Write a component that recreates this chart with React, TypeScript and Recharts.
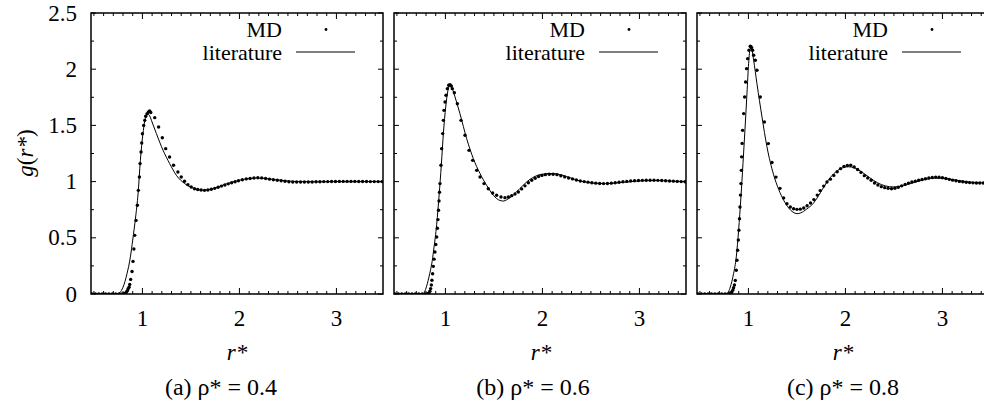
import React from 'react'
import { ComposedChart, Scatter, Line, XAxis, YAxis, ReferenceArea, Customized } from 'recharts'

// tick positions
const xTicks = [0.5, 0.6, 0.7, 0.8, 0.9, 1, 1.1, 1.2, 1.3, 1.4, 1.5, 1.6, 1.7, 1.8, 1.9, 2, 2.1, 2.2, 2.3, 2.4, 2.5, 2.6, 2.7, 2.8, 2.9, 3, 3.1, 3.2, 3.3, 3.4]
const yTicks = [0, 0.25, 0.5, 0.75, 1, 1.25, 1.5, 1.75, 2, 2.25, 2.5]
const xLabels = [1, 2, 3]
const yLabels = [0, 0.5, 1, 1.5, 2, 2.5]

// (a) rho* = 0.4
const litA = [
  [0.47, 0], [0.6, 0], [0.7, 0], [0.745, 0], [0.77, 0.015], [0.8, 0.06], [0.841, 0.18], [0.876, 0.33],
  [0.9, 0.48], [0.93, 0.685], [0.955, 0.89], [0.979, 1.19], [1.006, 1.43], [1.034, 1.575], [1.055, 1.6],
  [1.075, 1.585], [1.093, 1.545], [1.144, 1.427], [1.212, 1.28], [1.281, 1.16], [1.35, 1.056], [1.436, 0.982],
  [1.52, 0.943], [1.625, 0.923], [1.728, 0.937], [1.866, 0.98], [2.0, 1.012], [2.106, 1.027], [2.175, 1.032],
  [2.3, 1.025], [2.45, 1.01], [2.6, 1.0], [2.8, 0.998], [3.0, 1.0], [3.2, 1.0], [3.48, 1.0],
]
const mdA = [
  [0.48, 0], [0.515, 0], [0.55, 0], [0.585, 0], [0.62, 0], [0.655, 0], [0.69, 0], [0.725, 0], [0.76, 0],
  [0.79, 0], [0.81, 0.003], [0.825, 0.008], [0.835, 0.018], [0.845, 0.03], [0.852, 0.045], [0.862, 0.06],
  [0.869, 0.085], [0.879, 0.13], [0.893, 0.2], [0.903, 0.29], [0.912, 0.4], [0.921, 0.522], [0.934, 0.655],
  [0.948, 0.789], [0.958, 0.922], [0.969, 1.041], [0.976, 1.16], [0.986, 1.263], [0.993, 1.343], [1.0, 1.426],
  [1.013, 1.5], [1.024, 1.545], [1.034, 1.581], [1.048, 1.604], [1.062, 1.619], [1.075, 1.628], [1.086, 1.615],
  [1.127, 1.569], [1.167, 1.486], [1.205, 1.39], [1.24, 1.293], [1.28, 1.219], [1.321, 1.145], [1.366, 1.086],
  [1.4, 1.041], [1.434, 1.003], [1.469, 0.973], [1.503, 0.952], [1.537, 0.937], [1.57, 0.93], [1.605, 0.925],
  [1.64, 0.922], [1.675, 0.925], [1.71, 0.932], [1.745, 0.94], [1.78, 0.95], [1.815, 0.96], [1.85, 0.97],
  [1.885, 0.98], [1.92, 0.99], [1.955, 0.998], [1.99, 1.008], [2.03, 1.016], [2.07, 1.024], [2.11, 1.028],
  [2.15, 1.032], [2.19, 1.034], [2.23, 1.033], [2.27, 1.028], [2.31, 1.022], [2.35, 1.016], [2.39, 1.012],
  [2.43, 1.008], [2.47, 1.003], [2.51, 0.999], [2.55, 0.997], [2.59, 0.996], [2.63, 0.996], [2.67, 0.997],
  [2.71, 0.997], [2.75, 0.997], [2.79, 0.998], [2.83, 0.999], [2.87, 1.0], [2.91, 1.0], [2.95, 1.001],
  [2.99, 1.001], [3.03, 1.002], [3.07, 1.002], [3.11, 1.002], [3.15, 1.002], [3.19, 1.002], [3.23, 1.001],
  [3.27, 1.001], [3.31, 1.001], [3.35, 1.0], [3.39, 1.0], [3.43, 1.0], [3.47, 1.0],
]

// (b) rho* = 0.6
const litB = [
  [0.47, 0], [0.6, 0], [0.72, 0], [0.772, 0.003], [0.795, 0.04], [0.813, 0.09], [0.83, 0.15], [0.848, 0.22],
  [0.865, 0.3], [0.88, 0.4], [0.895, 0.5], [0.91, 0.62], [0.935, 0.88], [0.958, 1.15], [0.98, 1.44],
  [1.003, 1.664], [1.023, 1.797], [1.047, 1.857], [1.071, 1.827], [1.099, 1.753], [1.15, 1.604], [1.219, 1.382],
  [1.288, 1.204], [1.357, 1.071], [1.425, 0.967], [1.494, 0.878], [1.563, 0.832], [1.6, 0.827], [1.631, 0.838],
  [1.7, 0.88], [1.769, 0.94], [1.872, 1.02], [1.975, 1.062], [2.078, 1.072], [2.15, 1.068], [2.25, 1.045],
  [2.35, 1.015], [2.45, 0.995], [2.55, 0.985], [2.65, 0.982], [2.75, 0.987], [2.85, 0.995], [2.95, 1.003],
  [3.05, 1.008], [3.15, 1.01], [3.25, 1.008], [3.35, 1.004], [3.48, 1.0],
]
const mdB = [
  [0.48, 0], [0.515, 0], [0.55, 0], [0.585, 0], [0.62, 0], [0.655, 0], [0.69, 0], [0.725, 0], [0.76, 0],
  [0.79, 0], [0.815, 0.003], [0.83, 0.01], [0.84, 0.025], [0.848, 0.048], [0.855, 0.08], [0.861, 0.122],
  [0.868, 0.18], [0.875, 0.246], [0.883, 0.31], [0.892, 0.374], [0.901, 0.44], [0.91, 0.507], [0.917, 0.585],
  [0.923, 0.662], [0.929, 0.745], [0.934, 0.828], [0.939, 0.905], [0.944, 0.982], [0.954, 1.145], [0.961, 1.293],
  [0.972, 1.427], [0.979, 1.545], [0.985, 1.634], [0.996, 1.708], [1.006, 1.768], [1.02, 1.827], [1.034, 1.857],
  [1.047, 1.862], [1.061, 1.851], [1.071, 1.827], [1.092, 1.79], [1.123, 1.693], [1.161, 1.545], [1.202, 1.412],
  [1.243, 1.278], [1.281, 1.189], [1.322, 1.1], [1.357, 1.041], [1.398, 0.982], [1.442, 0.937], [1.487, 0.899],
  [1.528, 0.878], [1.573, 0.863], [1.614, 0.857], [1.649, 0.863], [1.683, 0.875], [1.717, 0.89], [1.752, 0.908],
  [1.786, 0.935], [1.82, 0.962], [1.855, 0.99], [1.89, 1.012], [1.925, 1.03], [1.96, 1.045], [1.995, 1.055],
  [2.03, 1.062], [2.07, 1.066], [2.11, 1.066], [2.15, 1.062], [2.19, 1.052], [2.23, 1.042], [2.27, 1.032],
  [2.31, 1.024], [2.35, 1.014], [2.39, 1.006], [2.43, 1.0], [2.47, 0.995], [2.51, 0.99], [2.55, 0.986],
  [2.59, 0.983], [2.63, 0.982], [2.67, 0.983], [2.71, 0.986], [2.75, 0.99], [2.79, 0.994], [2.83, 0.998],
  [2.87, 1.002], [2.91, 1.005], [2.95, 1.008], [2.99, 1.01], [3.03, 1.011], [3.07, 1.012], [3.11, 1.012],
  [3.15, 1.012], [3.19, 1.011], [3.23, 1.01], [3.27, 1.008], [3.31, 1.006], [3.35, 1.004], [3.39, 1.002],
  [3.43, 1.0], [3.47, 0.999],
]

// (c) rho* = 0.8
const litC = [
  [0.47, 0], [0.6, 0], [0.72, 0], [0.779, 0.003], [0.813, 0.062], [0.847, 0.181], [0.875, 0.33], [0.899, 0.567],
  [0.923, 0.863], [0.944, 1.16], [0.964, 1.456], [0.985, 1.783], [1.002, 2.049], [1.019, 2.183], [1.036, 2.168],
  [1.054, 2.079], [1.088, 1.871], [1.14, 1.575], [1.191, 1.31], [1.26, 1.06], [1.312, 0.93], [1.363, 0.835],
  [1.415, 0.765], [1.46, 0.728], [1.5, 0.715], [1.54, 0.722], [1.6, 0.755], [1.672, 0.81], [1.741, 0.9],
  [1.81, 0.997], [1.88, 1.07], [1.95, 1.115], [2.03, 1.132], [2.1, 1.12], [2.17, 1.085], [2.25, 1.035],
  [2.33, 0.99], [2.41, 0.962], [2.5, 0.952], [2.6, 0.965], [2.68, 0.985], [2.76, 1.005], [2.84, 1.022],
  [2.92, 1.03], [3.0, 1.03], [3.08, 1.022], [3.16, 1.01], [3.24, 1.0], [3.32, 0.993], [3.4, 0.99], [3.48, 0.99],
]
const mdC = [
  [0.48, 0], [0.515, 0], [0.55, 0], [0.585, 0], [0.62, 0], [0.655, 0], [0.69, 0], [0.725, 0], [0.76, 0],
  [0.79, 0], [0.81, 0.003], [0.823, 0.01], [0.83, 0.02], [0.84, 0.035], [0.847, 0.055], [0.856, 0.08],
  [0.865, 0.12], [0.875, 0.211], [0.882, 0.3], [0.889, 0.389], [0.896, 0.48], [0.902, 0.567], [0.908, 0.67],
  [0.913, 0.774], [0.918, 0.88], [0.923, 0.982], [0.927, 1.1], [0.93, 1.22], [0.935, 1.34], [0.94, 1.456],
  [0.951, 1.605], [0.961, 1.753], [0.971, 1.886], [0.981, 2.005], [0.992, 2.094], [1.006, 2.168], [1.019, 2.204],
  [1.026, 2.2], [1.033, 2.192], [1.043, 2.168], [1.054, 2.124], [1.071, 2.079], [1.088, 1.99], [1.122, 1.753],
  [1.165, 1.53], [1.205, 1.338], [1.243, 1.17], [1.284, 1.04], [1.325, 0.94], [1.363, 0.855], [1.397, 0.804],
  [1.432, 0.774], [1.466, 0.759], [1.5, 0.753], [1.535, 0.755], [1.57, 0.765], [1.605, 0.785], [1.64, 0.81],
  [1.675, 0.84], [1.71, 0.88], [1.74, 0.92], [1.776, 0.96], [1.81, 0.997], [1.845, 1.022], [1.88, 1.055],
  [1.915, 1.088], [1.95, 1.115], [1.985, 1.135], [2.02, 1.143], [2.055, 1.145], [2.09, 1.13], [2.125, 1.107],
  [2.16, 1.082], [2.195, 1.053], [2.23, 1.032], [2.265, 1.012], [2.3, 0.988], [2.335, 0.97], [2.37, 0.955],
  [2.405, 0.946], [2.44, 0.94], [2.475, 0.937], [2.51, 0.941], [2.545, 0.95], [2.58, 0.962], [2.615, 0.975],
  [2.65, 0.986], [2.685, 0.996], [2.72, 1.004], [2.755, 1.012], [2.79, 1.019], [2.825, 1.026], [2.86, 1.032],
  [2.895, 1.037], [2.93, 1.04], [2.965, 1.039], [3.0, 1.034], [3.035, 1.027], [3.07, 1.02], [3.105, 1.013],
  [3.14, 1.007], [3.175, 1.002], [3.21, 0.998], [3.245, 0.994], [3.28, 0.991], [3.315, 0.989], [3.35, 0.988],
  [3.385, 0.988], [3.42, 0.988], [3.455, 0.988],
]

const FONT = 'Liberation Serif, serif'
const FS = 23
const KEY_FS = 22
const CAP_FS = 24
const Y_W = 91 // space left of the plot box inside each chart
const PLOT_W = 292
const TOP = 13
const BOTTOM = 294
const CHART_W = Y_W + PLOT_W + 8
const CHART_H = 403

const toRows = (arr: number[][]) => arr.map(([r, g]) => ({ r, g }))

const isLabel = (v: number, list: number[]) => list.some((l) => Math.abs(l - v) < 1e-6)

const txt = { fontFamily: FONT, fontSize: FS, fill: '#000' }

const MdDot = (props: any) => <circle cx={props.cx} cy={props.cy} r={1.7} fill="#000" />

function Panel({ left, lit, md, showY, tag, rho, capX, rX }: any) {
  const plotL = Y_W
  const plotR = Y_W + PLOT_W

  const XTick = ({ x, payload }: any) => {
    const major = isLabel(payload.value, xLabels)
    const len = major ? 6 : 3
    return (
      <g>
        <line x1={x} x2={x} y1={BOTTOM} y2={BOTTOM - len} stroke="#000" />
        <line x1={x} x2={x} y1={TOP} y2={TOP + len} stroke="#000" />
        {major && (
          <text x={x} y={318} textAnchor="middle" dominantBaseline="central" style={txt}>
            {payload.value}
          </text>
        )}
      </g>
    )
  }

  const YTick = ({ y, payload }: any) => {
    const major = isLabel(payload.value, yLabels)
    const len = major ? 5 : 3
    return (
      <g>
        <line x1={plotL} x2={plotL + len} y1={y} y2={y} stroke="#000" />
        <line x1={plotR} x2={plotR - len} y1={y} y2={y} stroke="#000" />
        {showY && major && (
          <text x={77} y={y} textAnchor="end" dominantBaseline="central" style={txt}>
            {payload.value}
          </text>
        )}
      </g>
    )
  }

  const key = { ...txt, fontSize: KEY_FS }

  const Extras = () => (
    <g>
      <text x={plotR - 101} y={29} textAnchor="end" dominantBaseline="central" style={key}>MD</text>
      <circle cx={plotR - 57} cy={29.5} r={1.4} fill="#000" />
      <text x={plotR - 101} y={52} textAnchor="end" dominantBaseline="central" style={key}>literature</text>
      <line x1={plotR - 87} x2={plotR - 28} y1={52} y2={52} stroke="#000" strokeWidth={1} />
      <text x={rX - left} y={352} textAnchor="middle" dominantBaseline="central" style={{ ...txt, fontStyle: 'italic' }}>
        r*
      </text>
      <text x={capX - left} y={387} textAnchor="middle" dominantBaseline="central" style={{ ...txt, fontSize: CAP_FS }}>
        ({tag}) ρ* = {rho}
      </text>
      {showY && (
        <text x={25} y={153} textAnchor="middle" dominantBaseline="central" transform="rotate(-90 25 153)" style={txt}>
          <tspan fontStyle="italic">g</tspan>(<tspan fontStyle="italic">r*</tspan>)
        </text>
      )}
    </g>
  )

  return (
    <div style={{ position: 'absolute', left, top: 0 }}>
      <ComposedChart width={CHART_W} height={CHART_H} margin={{ top: TOP, right: 8, bottom: 0, left: 0 }}>
        <XAxis
          dataKey="r"
          type="number"
          domain={[0.47, 3.48]}
          ticks={xTicks}
          interval={0}
          allowDataOverflow
          axisLine={false}
          tickLine={false}
          tickSize={0}
          tickMargin={0}
          height={CHART_H - BOTTOM}
          tick={<XTick />}
        />
        <YAxis
          type="number"
          domain={[0, 2.5]}
          ticks={yTicks}
          interval={0}
          allowDataOverflow
          axisLine={false}
          tickLine={false}
          tickSize={0}
          tickMargin={0}
          width={Y_W}
          tick={<YTick />}
        />
        <Line
          data={toRows(lit)}
          dataKey="g"
          type="monotone"
          dot={false}
          stroke="#000"
          strokeWidth={1}
          isAnimationActive={false}
        />
        <Scatter data={toRows(md)} dataKey="g" shape={<MdDot />} isAnimationActive={false} />
        <ReferenceArea x1={0.47} x2={3.48} y1={0} y2={2.5} fill="none" stroke="#000" strokeWidth={1.5} ifOverflow="visible" />
        <Customized component={<Extras />} />
      </ComposedChart>
    </div>
  )
}

export default function App() {
  return (
    <div
      style={{
        position: 'absolute',
        left: 0,
        top: 0,
        width: 984,
        height: 403,
        overflow: 'hidden',
        background: '#fff',
        fontFamily: FONT,
      }}
    >
      <Panel left={0} lit={litA} md={mdA} showY tag="a" rho="0.4" capX={221} rX={237} />
      <Panel left={303} lit={litB} md={mdB} showY={false} tag="b" rho="0.6" capX={533} rX={541} />
      <Panel left={606} lit={litC} md={mdC} showY={false} tag="c" rho="0.8" capX={843} rX={843} />
    </div>
  )
}
